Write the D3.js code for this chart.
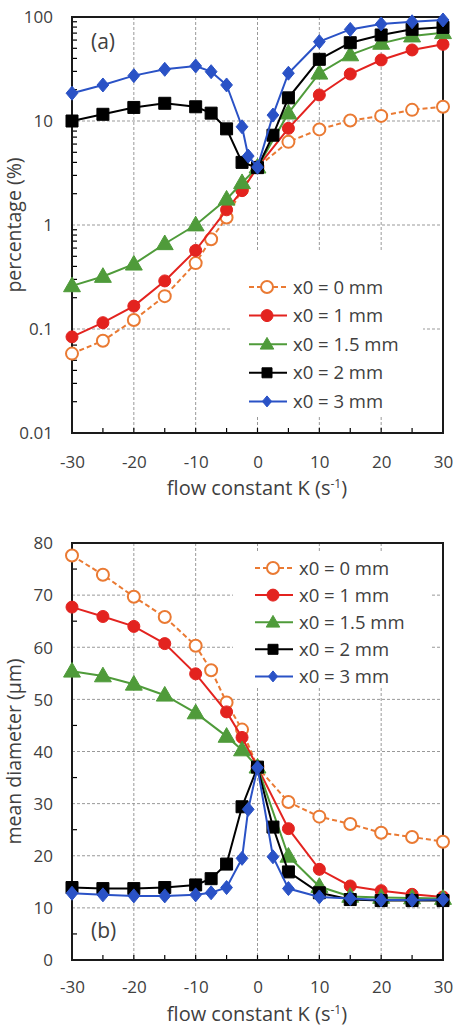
<!DOCTYPE html>
<html><head><meta charset="utf-8">
<script src="https://cdn.jsdelivr.net/npm/d3@7"></script>
<style>body{margin:0;background:#fff}svg{display:block}</style>
</head><body>
<svg id="c" width="456" height="1026"></svg>
<script>
// ---- data ----
const seriesNames = ["x0 = 0 mm","x0 = 1 mm","x0 = 1.5 mm","x0 = 2 mm","x0 = 3 mm"];
const kOrange = [-30,-25,-20,-15,-10,-7.5,-5,-2.5,0,5,10,15,20,25,30];
const kRed    = [-30,-25,-20,-15,-10,-5,-2.5,0,5,10,15,20,25,30];
const kGreen  = [-30,-25,-20,-15,-10,-5,-2.5,0,5,10,15,20,25,30];
const kBlack  = [-30,-25,-20,-15,-10,-7.5,-5,-2.5,0,2.5,5,10,15,20,25,30];
const kBlue   = [-30,-25,-20,-15,-10,-7.5,-5,-2.5,-1.5,0,2.5,5,10,15,20,25,30];
// (a) percentage (%)
const pctOrange = [0.058,0.077,0.122,0.207,0.43,0.73,1.18,2.2,3.6,6.3,8.3,10.1,11.2,12.8,13.7];
const pctRed    = [0.084,0.115,0.166,0.29,0.57,1.4,2.14,3.6,8.5,17.8,28.3,38.6,48.2,54.6];
const pctGreen  = [0.26,0.32,0.42,0.66,1.0,1.77,2.55,3.6,11.9,28.8,43.2,55.8,65.6,70.6];
const pctBlack  = [10,11.6,13.5,14.8,13.7,11.9,8.4,4.0,3.56,7.3,16.7,39.2,56.6,67.2,76.2,79.5];
const pctBlue   = [18.5,22.2,27.3,31.4,33.8,29.8,22.2,8.8,4.6,3.6,11.4,28.8,57.9,76,85.7,90,93.6];
// (b) mean diameter (µm)
const diaOrange = [77.6,73.9,69.7,65.8,60.3,55.6,49.4,44.2,37,30.3,27.5,26.1,24.4,23.6,22.7];
const diaRed    = [67.7,65.9,64.0,60.7,54.9,47.6,42.7,37,25.2,17.4,14.2,13.3,12.6,12.1];
const diaGreen  = [55.4,54.5,52.9,50.8,47.4,42.9,40.3,37,19.9,14.1,12.2,12.0,11.9,11.8];
const diaBlack  = [13.9,13.7,13.7,13.9,14.4,15.6,18.4,29.4,37,25.5,16.9,12.9,11.6,11.4,11.4,11.4];
const diaBlue   = [12.8,12.5,12.3,12.3,12.5,12.9,13.9,19.5,28.9,36.9,19.8,13.7,12.1,11.8,11.5,11.5,11.6];
const xTicks = [-30,-20,-10,0,10,20,30];
const yTicksA = [0.01,0.1,1,10,100];
const yTicksB = [0,10,20,30,40,50,60,70,80];

// ---- styles ----
const styles = [
  {color:"#EA7A33", dash:"5,3", marker:"circle", fill:"#fff"},
  {color:"#E3231F", dash:null, marker:"circle", fill:"#E3231F"},
  {color:"#4F9B3A", dash:null, marker:"triangle", fill:"#4F9B3A"},
  {color:"#000000", dash:null, marker:"square", fill:"#000"},
  {color:"#2A52C6", dash:null, marker:"diamond", fill:"#2A52C6"}
];
const FONT = "'Open Sans', 'DejaVu Sans', sans-serif";
const TXT = "#404040";
const svg = d3.select("#c");

function markerPath(type, size){
  const s = size;
  if(type==="circle") return d3.symbol(d3.symbolCircle, Math.PI*s*s/4)();
  if(type==="square") return d3.symbol(d3.symbolSquare, s*s)();
  if(type==="triangle") return d3.symbol(d3.symbolTriangle, s*s*0.55)();
  if(type==="diamond") return `M0,${-s/2}L${s*0.42},0L0,${s/2}L${-s*0.42},0Z`;
}

function drawPanel(cfg){
  const g = svg.append("g");
  const x = d3.scaleLinear().domain([-30,30]).range([72,443]);
  const y = cfg.y;
  const [yb, yt] = y.range();
  // gridlines
  g.selectAll(".hg").data(cfg.yTicks.slice(1,-1)).join("line")
    .attr("x1",72).attr("x2",443).attr("y1",d=>y(d)).attr("y2",d=>y(d))
    .attr("stroke","#999").attr("stroke-width",1).attr("stroke-dasharray","3,2");
  g.selectAll(".vg").data(xTicks.slice(1,-1)).join("line")
    .attr("x1",d=>x(d)).attr("x2",d=>x(d)).attr("y1",yt).attr("y2",yb)
    .attr("stroke","#999").attr("stroke-width",1).attr("stroke-dasharray","3,2");
  // legend background (hides grid)
  g.append("rect").attr("x",cfg.legBox[0]).attr("y",cfg.legBox[1])
    .attr("width",cfg.legBox[2]).attr("height",cfg.legBox[3]).attr("fill","#fff");
  // minor ticks inward
  const xMinor = d3.range(-25,30,5);
  g.selectAll(".xt").data(xMinor).join("line")
    .attr("x1",d=>x(d)).attr("x2",d=>x(d)).attr("y1",yb).attr("y2",yb-5)
    .attr("stroke","#000").attr("stroke-width",1.2);
  g.selectAll(".yt").data(cfg.yMinor).join("line")
    .attr("x1",72).attr("x2",77).attr("y1",d=>y(d)).attr("y2",d=>y(d))
    .attr("stroke","#000").attr("stroke-width",1.2);
  // axes via d3 for labels
  const xa = g.append("g").attr("transform",`translate(0,${yb})`)
    .call(d3.axisBottom(x).tickValues(xTicks).tickSize(0).tickPadding(0).tickFormat(d=>String(d)));
  xa.select(".domain").remove();
  xa.selectAll("text").attr("font-family",FONT).attr("font-size",17).attr("fill",TXT)
    .attr("dy",null).attr("y",cfg.xLabelY - yb);
  const ya = g.append("g").attr("transform",`translate(72,0)`)
    .call(d3.axisLeft(y).tickValues(cfg.yTicks).tickSize(0).tickPadding(0).tickFormat(cfg.yFmt));
  ya.select(".domain").remove();
  ya.selectAll("text").attr("font-family",FONT).attr("font-size",17).attr("fill",TXT)
    .attr("x",-19).attr("dy","0.34em");
  // frame
  g.append("rect").attr("x",72).attr("y",yt).attr("width",371).attr("height",yb-yt)
    .attr("fill","none").attr("stroke","#1a1a1a").attr("stroke-width",2);
  // series
  const clip = "clip"+cfg.id;
  svg.append("clipPath").attr("id",clip).append("rect")
    .attr("x",60).attr("y",yt-10).attr("width",400).attr("height",yb-yt+20);
  const sg = g.append("g").attr("clip-path",`url(#${clip})`);
  cfg.series.forEach((s,i)=>{
    const st = styles[i];
    const pts = s.k.map((k,j)=>[k,s.v[j]]);
    sg.append("path").datum(pts)
      .attr("d",d3.line().x(d=>x(d[0])).y(d=>y(d[1])))
      .attr("fill","none").attr("stroke",st.color).attr("stroke-width",2)
      .attr("stroke-dasharray",st.dash);
    const sz = st.marker==="diamond"?14:(st.marker==="triangle"?15:12);
    sg.selectAll(null).data(pts).join("path")
      .attr("transform",d=>`translate(${x(d[0])},${y(d[1]) + (st.marker==="triangle"?1:0)})`)
      .attr("d",markerPath(st.marker,sz))
      .attr("fill",st.fill).attr("stroke",st.color).attr("stroke-width",st.marker==="circle"&&i===0?2:1);
  });
  // legend
  const lg = g.append("g");
  seriesNames.forEach((nm,i)=>{
    const st = styles[i];
    const ly = cfg.legY0 + i*cfg.legDy;
    lg.append("line").attr("x1",cfg.legX).attr("x2",cfg.legX+38).attr("y1",ly).attr("y2",ly)
      .attr("stroke",st.color).attr("stroke-width",2).attr("stroke-dasharray",st.dash);
    const sz = st.marker==="circle"?12:(st.marker==="triangle"?12:(st.marker==="square"?10:11));
    lg.append("path").attr("transform",`translate(${cfg.legX+18},${ly + (st.marker==="triangle"?1:0)})`)
      .attr("d",markerPath(st.marker,sz))
      .attr("fill",st.fill).attr("stroke",st.color).attr("stroke-width",i===0?2:1);
    lg.append("text").attr("x",cfg.legX+44).attr("y",ly).attr("dy","0.36em")
      .attr("font-family",FONT).attr("font-size",18.5).attr("fill",TXT).text(nm);
  });
  // panel label
  g.append("text").attr("x",91).attr("y",cfg.panelY).attr("font-family",FONT)
    .attr("font-size",21).attr("fill",TXT).text(cfg.panel);
  // axis titles
  const xt = g.append("text").attr("x",257).attr("y",cfg.xTitleY).attr("text-anchor","middle")
    .attr("font-family",FONT).attr("font-size",20).attr("fill",TXT);
  xt.append("tspan").text("flow constant K (s");
  xt.append("tspan").attr("dy",-7).attr("font-size",12).text("-1");
  xt.append("tspan").attr("dy",7).text(")");
  g.append("text").attr("transform",`translate(21,${(yb+yt)/2}) rotate(-90)`)
    .attr("text-anchor","middle").attr("font-family",FONT).attr("font-size",19.5)
    .attr("fill",TXT).text(cfg.yTitle);
}

// minor log ticks
const logMinor = [];
[0.01,0.1,1,10].forEach(b=>{ for(let m=2;m<=9;m++) logMinor.push(b*m); });

drawPanel({
  id:"a",
  y: d3.scaleLog().domain([0.01,100]).range([433,17]),
  yTicks: yTicksA, yMinor: logMinor,
  yFmt: d=>String(d),
  xLabelY: 468, xTitleY: 495,
  legBox:[231,252,192,164], legX:249, legY0:287, legDy:28.6,
  panel:"(a)", panelY:49, yTitle:"percentage (%)",
  series:[
    {k:kOrange,v:pctOrange},{k:kRed,v:pctRed},{k:kGreen,v:pctGreen},
    {k:kBlack,v:pctBlack},{k:kBlue,v:pctBlue}
  ]
});
drawPanel({
  id:"b",
  y: d3.scaleLinear().domain([0,80]).range([960,543]),
  yTicks: yTicksB, yMinor: d3.range(5,80,10),
  yFmt: d=>String(d),
  xLabelY: 993, xTitleY: 1021,
  legBox:[233,553,197,135], legX:255, legY0:568, legDy:27.1,
  panel:"(b)", panelY:938, yTitle:"mean diameter (µm)",
  series:[
    {k:kOrange,v:diaOrange},{k:kRed,v:diaRed},{k:kGreen,v:diaGreen},
    {k:kBlack,v:diaBlack},{k:kBlue,v:diaBlue}
  ]
});
</script>
</body></html>
